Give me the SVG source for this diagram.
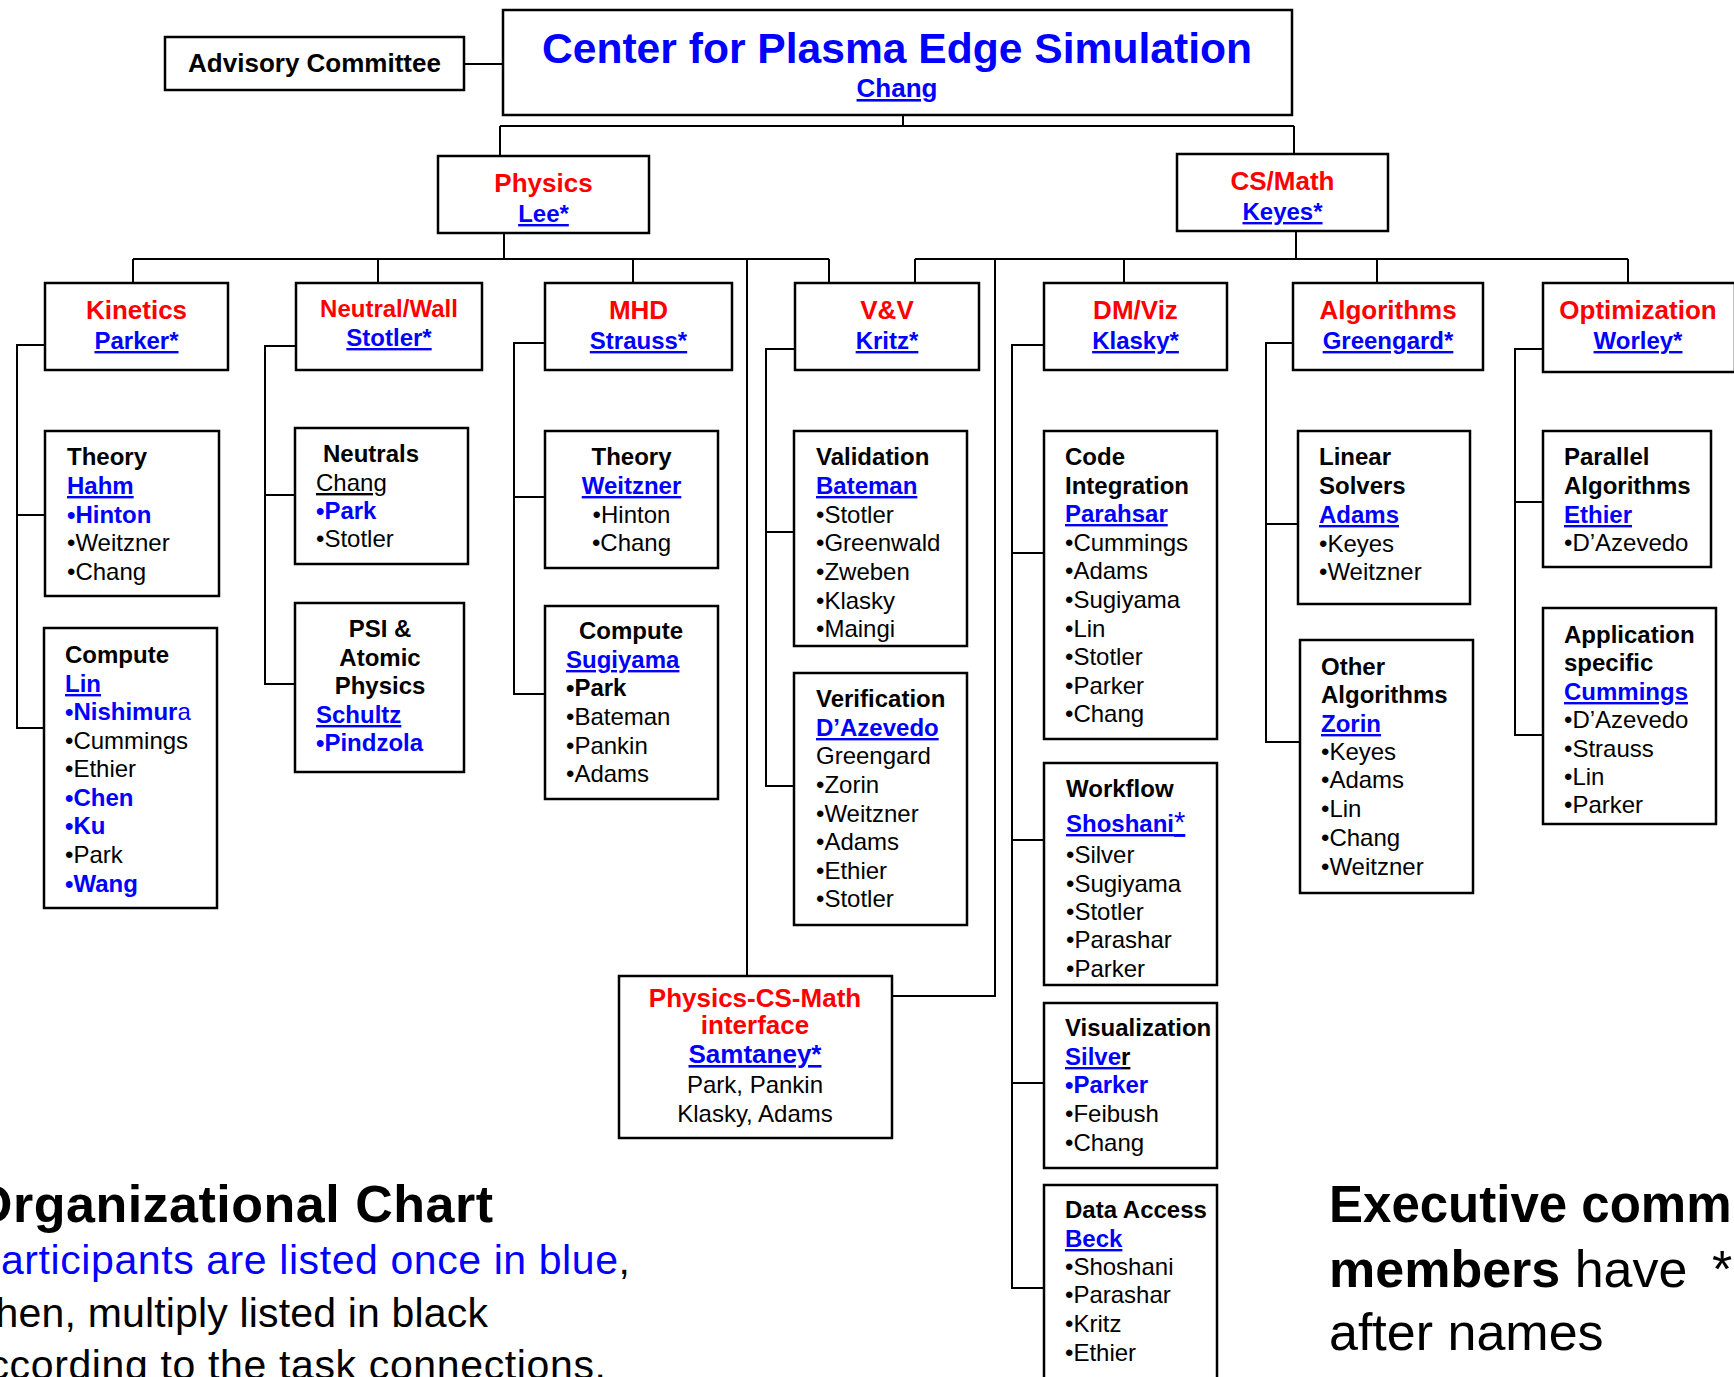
<svg xmlns="http://www.w3.org/2000/svg" width="1734" height="1377" viewBox="0 0 1734 1377">
<style>
text{font-family:"Liberation Sans",Arial,Helvetica,sans-serif;font-size:24px;fill:#000}
.box{fill:#fff;stroke:#000;stroke-width:2.5}
.ln{fill:none;stroke:#000;stroke-width:2}
.h{font-weight:bold}
.u{font-weight:bold;fill:#00f;text-decoration:underline}
.b{font-weight:bold;fill:#00f}
.t{font-weight:bold;fill:#f00;font-size:26px;text-anchor:middle}
.c{text-anchor:middle}
.ul{text-decoration:underline}
</style>
<rect width="1734" height="1377" fill="#fff"/>
<g id="connectors" class="ln">
<path d="M464,64H503"/>
<path d="M903,115V126M500,126H1294M500,126V156M1294,126V154"/>
<path d="M504,233V259M133,259H829M133,259V283M378,259V283M633,259V283M829,259V283"/>
<path d="M747,259V976"/>
<path d="M1296,231V259M915,259H1628M915,259V283M1124,259V283M1377,259V283M1628,259V283"/>
<path d="M995,259V996H892"/>
<path d="M45,345H17V728H44M17,515H45"/>
<path d="M296,346H265V684H295M265,495H295"/>
<path d="M545,343H514V694H545M514,497H545"/>
<path d="M795,349H766V786H794M766,532H794"/>
<path d="M1044,345H1012V1288H1044M1012,553H1044M1012,840H1044M1012,1083H1044"/>
<path d="M1293,343H1266V742H1300M1266,524H1298"/>
<path d="M1543,349H1515V735H1543M1515,502H1543"/>
</g>
<g id="advisory">
<rect class="box" x="165" y="37" width="299" height="53"/>
<text class="h c" x="314.5" y="72" style="font-size:26px">Advisory Committee</text>
</g>
<g id="center">
<rect class="box" x="503" y="10" width="789" height="105"/>
<text class="b c" x="897" y="63" style="font-size:42.6px">Center for Plasma Edge Simulation</text>
<text class="u c" x="897" y="97" style="font-size:26px">Chang</text>
</g>
<g id="physics">
<rect class="box" x="438" y="156" width="211" height="77"/>
<text class="t" x="543.5" y="192">Physics</text>
<text class="u c" x="543.5" y="222">Lee*</text>
</g>
<g id="csmath">
<rect class="box" x="1177" y="154" width="211" height="77"/>
<text class="t" x="1282.5" y="190">CS/Math</text>
<text class="u c" x="1282.5" y="220">Keyes*</text>
</g>
<g id="kinetics">
<rect class="box" x="45" y="283" width="183" height="87"/>
<text class="t" x="136.5" y="319">Kinetics</text>
<text class="u c" x="136.5" y="349">Parker*</text>
</g>
<g id="neutralwall">
<rect class="box" x="296" y="283" width="186" height="87"/>
<text class="t" x="389" y="317" style="font-size:24px">Neutral/Wall</text>
<text class="u c" x="389" y="346">Stotler*</text>
</g>
<g id="mhd">
<rect class="box" x="545" y="283" width="187" height="87"/>
<text class="t" x="638.5" y="319">MHD</text>
<text class="u c" x="638.5" y="349">Strauss*</text>
</g>
<g id="vv">
<rect class="box" x="795" y="283" width="184" height="87"/>
<text class="t" x="887" y="319">V&amp;V</text>
<text class="u c" x="887" y="349">Kritz*</text>
</g>
<g id="dmviz">
<rect class="box" x="1044" y="283" width="183" height="87"/>
<text class="t" x="1135.5" y="319">DM/Viz</text>
<text class="u c" x="1135.5" y="349">Klasky*</text>
</g>
<g id="algorithms">
<rect class="box" x="1293" y="283" width="190" height="87"/>
<text class="t" x="1388" y="319">Algorithms</text>
<text class="u c" x="1388" y="349">Greengard*</text>
</g>
<g id="optimization">
<rect class="box" x="1543" y="283" width="192" height="89"/>
<text class="t" x="1638" y="319">Optimization</text>
<text class="u c" x="1638" y="349">Worley*</text>
</g>
<g id="kin-theory">
<rect class="box" x="45" y="431" width="174" height="165"/>
<text class="h" x="67" y="465">Theory</text>
<text class="u" x="67" y="494">Hahm</text>
<text class="b" x="67" y="523">•Hinton</text>
<text x="67" y="551">•Weitzner</text>
<text x="67" y="580">•Chang</text>
</g>
<g id="kin-compute">
<rect class="box" x="44" y="628" width="173" height="280"/>
<text class="h" x="65" y="663">Compute</text>
<text class="u" x="65" y="692">Lin</text>
<text class="b" x="65" y="720">•Nishimur<tspan style="font-weight:normal">a</tspan></text>
<text x="65" y="749">•Cummings</text>
<text x="65" y="777">•Ethier</text>
<text class="b" x="65" y="806">•Chen</text>
<text class="b" x="65" y="834">•Ku</text>
<text x="65" y="863">•Park</text>
<text class="b" x="65" y="892">•Wang</text>
</g>
<g id="neutrals">
<rect class="box" x="295" y="428" width="173" height="136"/>
<text class="h" x="323" y="462">Neutrals</text>
<text class="ul" x="316" y="491">Chang</text>
<text class="b" x="316" y="519">•Park</text>
<text x="316" y="547">•Stotler</text>
</g>
<g id="psi">
<rect class="box" x="295" y="603" width="169" height="169"/>
<text class="h c" x="380" y="637">PSI &amp;</text>
<text class="h c" x="380" y="666">Atomic</text>
<text class="h c" x="380" y="694">Physics</text>
<text class="u" x="316" y="723">Schultz</text>
<text class="b" x="316" y="751">•Pindzola</text>
</g>
<g id="mhd-theory">
<rect class="box" x="545" y="431" width="173" height="137"/>
<text class="h c" x="631.5" y="465">Theory</text>
<text class="u c" x="631.5" y="494">Weitzner</text>
<text class="c" x="631.5" y="523">•Hinton</text>
<text class="c" x="631.5" y="551">•Chang</text>
</g>
<g id="mhd-compute">
<rect class="box" x="545" y="606" width="173" height="193"/>
<text class="h c" x="631" y="639">Compute</text>
<text class="u" x="566" y="668">Sugiyama</text>
<text class="h" x="566" y="696">•Park</text>
<text x="566" y="725">•Bateman</text>
<text x="566" y="754">•Pankin</text>
<text x="566" y="782">•Adams</text>
</g>
<g id="validation">
<rect class="box" x="794" y="431" width="173" height="215"/>
<text class="h" x="816" y="465">Validation</text>
<text class="u" x="816" y="494">Bateman</text>
<text x="816" y="523">•Stotler</text>
<text x="816" y="551">•Greenwald</text>
<text x="816" y="580">•Zweben</text>
<text x="816" y="609">•Klasky</text>
<text x="816" y="637">•Maingi</text>
</g>
<g id="verification">
<rect class="box" x="794" y="673" width="173" height="252"/>
<text class="h" x="816" y="707">Verification</text>
<text class="u" x="816" y="736">D’Azevedo</text>
<text x="816" y="764">Greengard</text>
<text x="816" y="793">•Zorin</text>
<text x="816" y="822">•Weitzner</text>
<text x="816" y="850">•Adams</text>
<text x="816" y="879">•Ethier</text>
<text x="816" y="907">•Stotler</text>
</g>
<g id="interface">
<rect class="box" x="619" y="976" width="273" height="162"/>
<text class="t" x="755" y="1007">Physics-CS-Math</text>
<text class="t" x="755" y="1034">interface</text>
<text class="u c" x="755" y="1063" style="font-size:26px">Samtaney*</text>
<text class="c" x="755" y="1093">Park, Pankin</text>
<text class="c" x="755" y="1122">Klasky, Adams</text>
</g>
<g id="code-integration">
<rect class="box" x="1044" y="431" width="173" height="308"/>
<text class="h" x="1065" y="465">Code</text>
<text class="h" x="1065" y="494">Integration</text>
<text class="u" x="1065" y="522">Parahsar</text>
<text x="1065" y="551">•Cummings</text>
<text x="1065" y="579">•Adams</text>
<text x="1065" y="608">•Sugiyama</text>
<text x="1065" y="637">•Lin</text>
<text x="1065" y="665">•Stotler</text>
<text x="1065" y="694">•Parker</text>
<text x="1065" y="722">•Chang</text>
</g>
<g id="workflow">
<rect class="box" x="1044" y="763" width="173" height="222"/>
<text class="h" x="1066" y="797">Workflow</text>
<text class="u" x="1066" y="832">Shoshani<tspan style="font-size:29px;font-weight:normal">*</tspan></text>
<text x="1066" y="863">•Silver</text>
<text x="1066" y="892">•Sugiyama</text>
<text x="1066" y="920">•Stotler</text>
<text x="1066" y="948">•Parashar</text>
<text x="1066" y="977">•Parker</text>
</g>
<g id="visualization">
<rect class="box" x="1044" y="1003" width="173" height="165"/>
<text class="h" x="1065" y="1036">Visualization</text>
<text class="h" x="1065" y="1065"><tspan class="u">Silve</tspan><tspan class="ul">r</tspan></text>
<text class="b" x="1065" y="1093">•Parker</text>
<text x="1065" y="1122">•Feibush</text>
<text x="1065" y="1151">•Chang</text>
</g>
<g id="data-access">
<rect class="box" x="1044" y="1185" width="173" height="215"/>
<text class="h" x="1065" y="1218">Data Access</text>
<text class="u" x="1065" y="1247">Beck</text>
<text x="1065" y="1275">•Shoshani</text>
<text x="1065" y="1303">•Parashar</text>
<text x="1065" y="1332">•Kritz</text>
<text x="1065" y="1361">•Ethier</text>
</g>
<g id="linear-solvers">
<rect class="box" x="1298" y="431" width="172" height="173"/>
<text class="h" x="1319" y="465">Linear</text>
<text class="h" x="1319" y="494">Solvers</text>
<text class="u" x="1319" y="523">Adams</text>
<text x="1319" y="552">•Keyes</text>
<text x="1319" y="580">•Weitzner</text>
</g>
<g id="other-algorithms">
<rect class="box" x="1300" y="640" width="173" height="253"/>
<text class="h" x="1321" y="675">Other</text>
<text class="h" x="1321" y="703">Algorithms</text>
<text class="u" x="1321" y="732">Zorin</text>
<text x="1321" y="760">•Keyes</text>
<text x="1321" y="788">•Adams</text>
<text x="1321" y="817">•Lin</text>
<text x="1321" y="846">•Chang</text>
<text x="1321" y="875">•Weitzner</text>
</g>
<g id="parallel-algorithms">
<rect class="box" x="1543" y="431" width="168" height="136"/>
<text class="h" x="1564" y="465">Parallel</text>
<text class="h" x="1564" y="494">Algorithms</text>
<text class="u" x="1564" y="523">Ethier</text>
<text x="1564" y="551">•D’Azevedo</text>
</g>
<g id="application-specific">
<rect class="box" x="1543" y="608" width="173" height="216"/>
<text class="h" x="1564" y="643">Application</text>
<text class="h" x="1564" y="671">specific</text>
<text class="u" x="1564" y="700">Cummings</text>
<text x="1564" y="728">•D’Azevedo</text>
<text x="1564" y="757">•Strauss</text>
<text x="1564" y="785">•Lin</text>
<text x="1564" y="813">•Parker</text>
</g>
<g id="legend-left">
<text class="h" x="-28" y="1222" textLength="521" style="font-size:52px">Organizational Chart</text>
<text x="-27" y="1274" textLength="657" style="font-size:41px"><tspan style="fill:#00f">Participants are listed once in blue</tspan>,</text>
<text x="-16" y="1327" textLength="504" style="font-size:41px">then, multiply listed in black</text>
<text x="-35" y="1379" textLength="641" style="font-size:41px">according to the task connections.</text>
</g>
<g id="legend-right">
<text class="h" x="1329" y="1222" style="font-size:51px">Executive committee</text>
<text x="1329" y="1287" style="font-size:52px"><tspan style="font-weight:bold">members</tspan> have</text>
<text x="1712" y="1287" style="font-size:52px">*</text>
<text x="1329" y="1350" style="font-size:52px">after names</text>
</g>
</svg>
